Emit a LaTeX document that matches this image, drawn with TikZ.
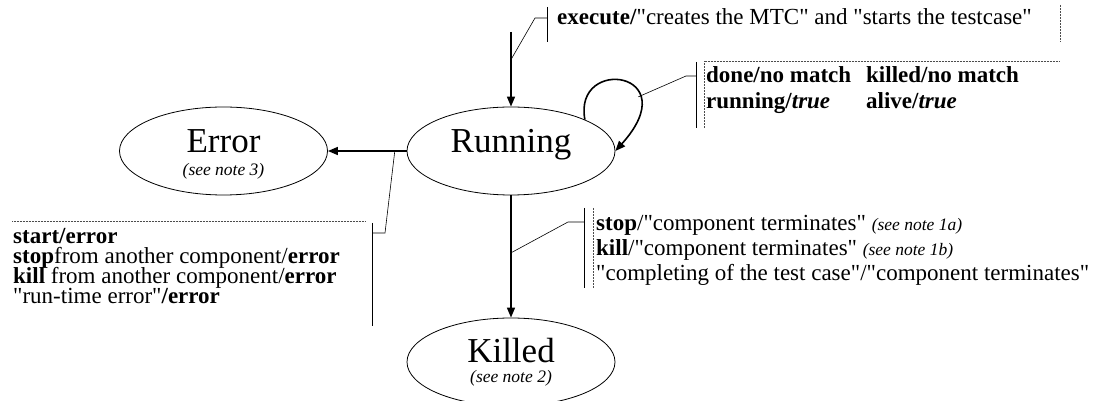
\documentclass[tikz,border=0pt]{standalone}
\usepackage{fontspec}
\setmainfont{Liberation Serif}[Ligatures=TeXOff]
\usetikzlibrary{shapes.geometric,arrows.meta,calc}
\tikzset{
  state/.style={draw, ellipse, line width=0.8pt, minimum width=208pt, minimum height=88pt, inner sep=0pt},
  trans/.style={line width=1.6pt, -{Triangle[length=10pt,width=8pt]}},
  lead/.style={line width=0.6pt},
  bar/.style={line width=0.8pt},
  dots/.style={densely dotted, line width=0.5pt, black!70},
  body/.style={font=\fontsize{23}{23}\selectfont, inner sep=0pt, anchor=base west},
  big/.style={font=\fontsize{35}{35}\selectfont, inner sep=0pt, anchor=base},
  note/.style={font=\fontsize{17.5}{17.5}\selectfont\itshape, inner sep=0pt, anchor=base},
}
\newcommand{\seenote}[1]{{\fontsize{17.5}{17.5}\selectfont\itshape (see note #1)}}
\begin{document}
\begin{tikzpicture}[x=1pt,y=1pt]
    \useasboundingbox (0,0) rectangle (1103,401);
    % ---------------------------------------------
    % the three states
    \node[state] (run) at (511,250) {};
    \node[big] (runtxt) at ([yshift=-2pt]run.center) {Running};
    \node[state] (err) at (223.5,250) {};
    \node[big] (errtxt) at ([yshift=-2pt]err.center) {Error};
    \node[note] (errnote) at ([yshift=-25pt]err.center) {(see note 3)};
    \node[state] (kil) at (511,39) {};
    \node[big] (kiltxt) at ([yshift=-1pt]kil.center) {Killed};
    \node[note] (kilnote) at ([yshift=-21pt]kil.center) {(see note 2)};

    % ---------------------------------------------
    % transitions
    \coordinate (start) at (511,369);
    \draw[trans] (start) -- (run.north);
    \draw[trans] (run.west) -- (err.east);
    \draw[trans] (run.south) -- (kil.north);
    \draw[trans] (run.23) .. controls +(-12,64) and +(72,80) .. (run.east)
        coordinate[pos=0.7] (loopfoot);
    % where the leaders meet the transitions
    \coordinate (exefoot) at ($(start)!0.37!(run.north)$);
    \coordinate (errfoot) at ($(run.west)!0.15!(err.east)$);
    \coordinate (kilfoot) at ($(run.south)!0.47!(kil.north)$);

    % ---------------------------------------------
    % execute label
    \draw[lead] (exefoot) -- (535,383) -- (547,383);
    \draw[bar] (547,394) -- (547,359);
    \draw[dots] (1060,396) -- (1060,359);
    \node[body] (exetxt) at (557,376) {\textbf{execute/}"creates the MTC" and "starts the testcase"};

    % ---------------------------------------------
    % self loop label
    \draw[lead] (loopfoot) -- (686,325) -- (696,325);
    \draw[bar] (696,339) -- (696,273);
    \draw[dots] (704,273) -- (704,340) -- (1060,340);
    \node[body] (donetxt) at (706,318) {\textbf{done/no match}};
    \node[body] (runningtxt) at (706,292) {\textbf{running/\textit{true}}};
    \node[body] (killedtxt) at (866,318) {\textbf{killed/no match}};
    \node[body] (alivetxt) at (866,292) {\textbf{alive/\textit{true}}};

    % ---------------------------------------------
    % error label
    \draw[lead] (errfoot) -- (385,168) -- (373,168);
    \draw[bar] (372,178) -- (372,75);
    \draw[dots] (12,180) -- (365,180);
    \node[body] (errl1) at (13,157) {\textbf{start/error}};
    \node[body] (errl2) at (13,137) {\textbf{stop}from another component/\textbf{error}};
    \node[body] (errl3) at (13,117) {\textbf{kill} from another component/\textbf{error}};
    \node[body] (errl4) at (13,97) {"run-time error"\textbf{/error}};

    % ---------------------------------------------
    % killed label
    \draw[lead] (kilfoot) -- (568,179) -- (584,179);
    \draw[bar] (584,193) -- (584,113);
    \draw[dots] (593,193) -- (593,113);
    \node[body] (kill1) at (596,170) {\textbf{stop}/"component terminates" \seenote{1a}};
    \node[body] (kill2) at (596,145) {\textbf{kill}/"component terminates" \seenote{1b}};
    \node[body] (kill3) at (596,120) {"completing of the test case"/"component terminates"};

\end{tikzpicture}
\end{document}
